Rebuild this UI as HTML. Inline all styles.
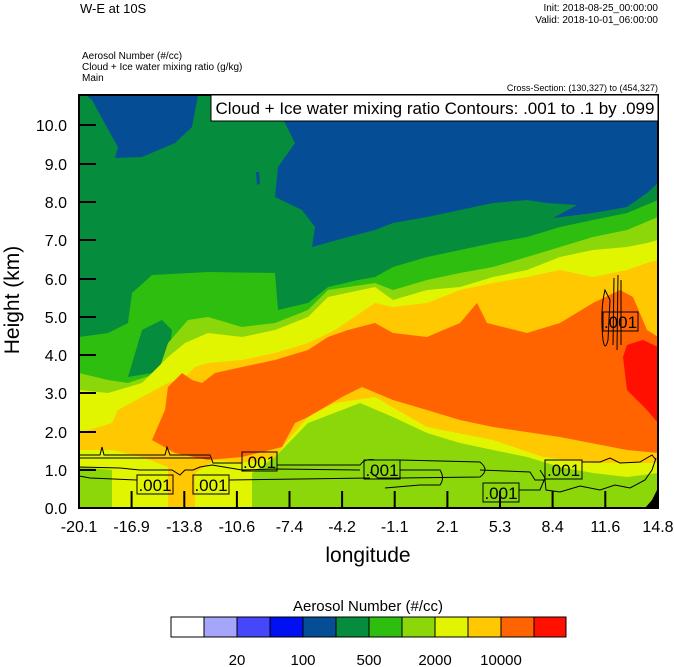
<!DOCTYPE html>
<html><head><meta charset="utf-8"><style>
body{margin:0;background:#fff;}
svg{display:block;font-family:"Liberation Sans",sans-serif;}
</style></head><body>
<svg width="674" height="667" viewBox="0 0 674 667" xmlns="http://www.w3.org/2000/svg">
<defs><clipPath id="pc"><rect x="79" y="95" width="579" height="413"/></clipPath></defs>
<g clip-path="url(#pc)">
<rect x="79" y="95" width="579" height="413" fill="#058c3c"/>
<!-- dark blue -->
<polygon fill="#054e96" points="86,95 92,100 104,122 118,147 115,158 142,157 175,143 192,127 198,95"/>
<polygon fill="#054e96" points="278,95 285,123 295,143 278,167 275,197 302,210 315,227 312,247 348,237 375,230 393,223 427,217 460,210 493,203 527,200 547,203 577,205 553,218 593,213 627,207 647,193 658,183 658,95"/>
<polygon fill="#0010f0" points="615,95 625,100 640,101 650,97 658,98 658,95"/>
<polygon fill="#054e96" points="256,172 259,172 260,183 257,185"/>
<!-- light green -->
<polygon fill="#2dbe0f" points="79,337 108,333 128,323 132,293 152,275 208,272 275,273 278,310 308,303 328,287 358,280 375,277 393,267 427,257 460,250 493,243 527,237 560,227 593,220 627,213 658,200 658,508 79,508"/>
<polygon fill="#058c3c" points="128,377 142,330 162,320 172,330 168,363 152,373"/>
<!-- yellow green -->
<polygon fill="#8cd70a" points="79,373 108,380 128,383 158,373 168,343 188,320 208,317 242,327 275,323 308,310 328,290 375,283 393,290 427,280 460,273 493,267 527,257 560,247 593,237 627,230 658,217 658,508 79,508"/>
<!-- yellow -->
<polygon fill="#e1f500" points="79,390 108,393 142,383 168,357 185,343 208,333 242,337 275,330 308,317 328,297 375,287 393,300 427,290 460,287 493,277 527,270 560,257 593,250 627,247 647,243 658,240 658,473 627,477 593,473 560,467 527,457 493,450 460,443 427,433 393,417 360,403 342,410 308,423 275,457 252,473 252,508 112,508 112,470 79,467"/>
<!-- orange-yellow -->
<polygon fill="#ffc800" points="79,433 112,423 118,410 142,397 168,383 185,377 195,367 208,363 242,360 275,353 308,343 335,330 375,303 393,307 427,303 460,290 493,283 527,277 560,270 593,277 627,270 647,263 658,260 658,463 593,463 543,457 493,440 427,427 375,397 335,403 308,417 288,440 275,457 242,463 215,460 195,473 195,508 168,508 168,467 142,457 112,450 79,450"/>
<!-- orange -->
<polygon fill="#ff6400" points="152,440 165,410 168,387 182,373 192,380 202,383 215,373 242,367 275,360 308,350 328,337 348,330 375,323 393,333 427,337 460,323 477,303 487,323 527,333 560,323 593,303 620,290 633,297 647,330 658,337 658,453 627,450 560,437 493,427 460,420 427,410 393,400 362,387 342,397 308,417 295,423 282,447 242,457 208,460 175,453"/>
<polygon fill="#ffc800" points="534,295 539,290 542,298 538,304"/>
<!-- red -->
<polygon fill="#ff1000" points="623,357 627,345 633,343 643,340 658,347 658,423 647,410 627,390"/>
<polygon fill="#000" points="645,508 652,500 658,488 658,508"/>
<!-- contour lines -->
<g fill="none" stroke="#000" stroke-width="1">
<path d="M79,455 L100,455 L102,447 L104,455 L165,455 L167,447 L170,455 L210,455 L213,463 L242,463"/>
<path d="M79,458 L210,458"/>
<path d="M277,465 L360,465 Q365,458 375,460 L400,460 L480,462 Q490,470 480,477 L400,478 L378,478 L370,472"/>
<path d="M79,467 L120,468 L140,470 L172,470 L180,475 L185,470 L193,470 L200,467 L212,465 L242,470 L276,469 L360,470"/>
<path d="M79,476 L90,478 L137,480"/>
<path d="M229,480 L300,479 L370,478"/>
<path d="M400,470 L440,470 Q445,478 440,485 L420,485 L385,488"/>
<path d="M480,470 L530,472 L535,480 L545,480 L546,490 L560,492 L580,486 L600,490 L615,485 L630,488 L645,480 L652,470 L656,458"/>
<path d="M582,462 L600,462 L610,458 L620,463 L640,462 L652,455 L656,460"/>
<path d="M519,490 L540,490 L545,478 L540,470"/>
<path d="M605,290 Q600,310 603,340 Q605,352 608,340 L610,300 Z"/>
<path d="M614,278 L613,345 M618,275 L617,350 M621,280 L621,345"/>
</g>
</g>
<rect x="79" y="95" width="579" height="413" fill="none" stroke="#000" stroke-width="2"/>
<!-- contour labels -->
<g font-size="17" text-anchor="middle">
<rect x="242" y="452" width="35" height="19" fill="none" stroke="#000"/><text x="259.5" y="468">.001</text>
<rect x="137" y="475" width="36" height="19" fill="none" stroke="#000"/><text x="155" y="491">.001</text>
<rect x="193" y="475" width="36" height="19" fill="none" stroke="#000"/><text x="211" y="491">.001</text>
<rect x="364" y="460" width="36" height="19" fill="none" stroke="#000"/><text x="382" y="476">.001</text>
<rect x="483" y="483" width="36" height="19" fill="none" stroke="#000"/><text x="501" y="499">.001</text>
<rect x="545" y="460" width="37" height="19" fill="none" stroke="#000"/><text x="563.5" y="476">.001</text>
<rect x="603" y="312" width="35" height="19" fill="none" stroke="#000"/><text x="620.5" y="328">.001</text>
</g>
<!-- ticks -->
<g stroke="#000" stroke-width="2">
<path d="M79,508h17M79,470h17M79,432h17M79,393h17M79,355h17M79,317h17M79,279h17M79,240h17M79,202h17M79,164h17M79,125h17"/>
<path d="M131.6,508v-17M184.3,508v-17M236.9,508v-17M289.5,508v-17M342.1,508v-17M394.7,508v-17M447.4,508v-17M500,508v-17M552.6,508v-17M605.3,508v-17"/>
</g>
<g font-size="16" text-anchor="end">
<text x="67" y="514">0.0</text><text x="67" y="476">1.0</text><text x="67" y="438">2.0</text><text x="67" y="399">3.0</text><text x="67" y="361">4.0</text><text x="67" y="323">5.0</text><text x="67" y="285">6.0</text><text x="67" y="246">7.0</text><text x="67" y="208">8.0</text><text x="67" y="170">9.0</text><text x="67" y="131">10.0</text>
</g>
<g font-size="16" text-anchor="middle">
<text x="79" y="532">-20.1</text><text x="131.6" y="532">-16.9</text><text x="184.3" y="532">-13.8</text><text x="236.9" y="532">-10.6</text><text x="289.5" y="532">-7.4</text><text x="342.1" y="532">-4.2</text><text x="394.7" y="532">-1.1</text><text x="447.4" y="532">2.1</text><text x="500" y="532">5.3</text><text x="552.6" y="532">8.4</text><text x="605.3" y="532">11.6</text><text x="658" y="532">14.8</text>
</g>
<text x="368" y="562" font-size="21" text-anchor="middle">longitude</text>
<text transform="translate(19,300) rotate(-90)" font-size="21" text-anchor="middle">Height (km)</text>
<!-- titles -->
<text x="80" y="13" font-size="13">W-E at 10S</text>
<text x="658" y="11" font-size="10" text-anchor="end">Init: 2018-08-25_00:00:00</text>
<text x="658" y="23" font-size="10" text-anchor="end">Valid: 2018-10-01_06:00:00</text>
<text x="82" y="59" font-size="10">Aerosol Number   (#/cc)</text>
<text x="82" y="70" font-size="10">Cloud + Ice water mixing ratio   (g/kg)</text>
<text x="82" y="81" font-size="10">Main</text>
<text x="658" y="91" font-size="9" text-anchor="end">Cross-Section: (130,327) to (454,327)</text>
<rect x="211" y="95" width="447" height="26" fill="#fff" stroke="#000" stroke-width="1"/>
<text x="435" y="114" font-size="17" text-anchor="middle">Cloud + Ice water mixing ratio Contours: .001 to .1 by .099</text>
<!-- colorbar -->
<text x="368" y="611" font-size="15" text-anchor="middle">Aerosol Number  (#/cc)</text>
<g stroke="#000" stroke-width="1">
<rect x="171" y="617" width="33" height="20" fill="#fff"/>
<rect x="204" y="617" width="33" height="20" fill="#a5a5fa"/>
<rect x="237" y="617" width="33" height="20" fill="#4646fa"/>
<rect x="270" y="617" width="33" height="20" fill="#0010f0"/>
<rect x="303" y="617" width="33" height="20" fill="#054e96"/>
<rect x="336" y="617" width="33" height="20" fill="#058c3c"/>
<rect x="369" y="617" width="33" height="20" fill="#2dbe0f"/>
<rect x="402" y="617" width="33" height="20" fill="#8cd70a"/>
<rect x="435" y="617" width="33" height="20" fill="#e1f500"/>
<rect x="468" y="617" width="33" height="20" fill="#ffc800"/>
<rect x="501" y="617" width="33" height="20" fill="#ff6400"/>
<rect x="534" y="617" width="32" height="20" fill="#ff1000"/>
</g>
<g font-size="15" text-anchor="middle">
<text x="237" y="665">20</text><text x="303" y="665">100</text><text x="369" y="665">500</text><text x="435" y="665">2000</text><text x="501" y="665">10000</text>
</g>
</svg>
</body></html>
